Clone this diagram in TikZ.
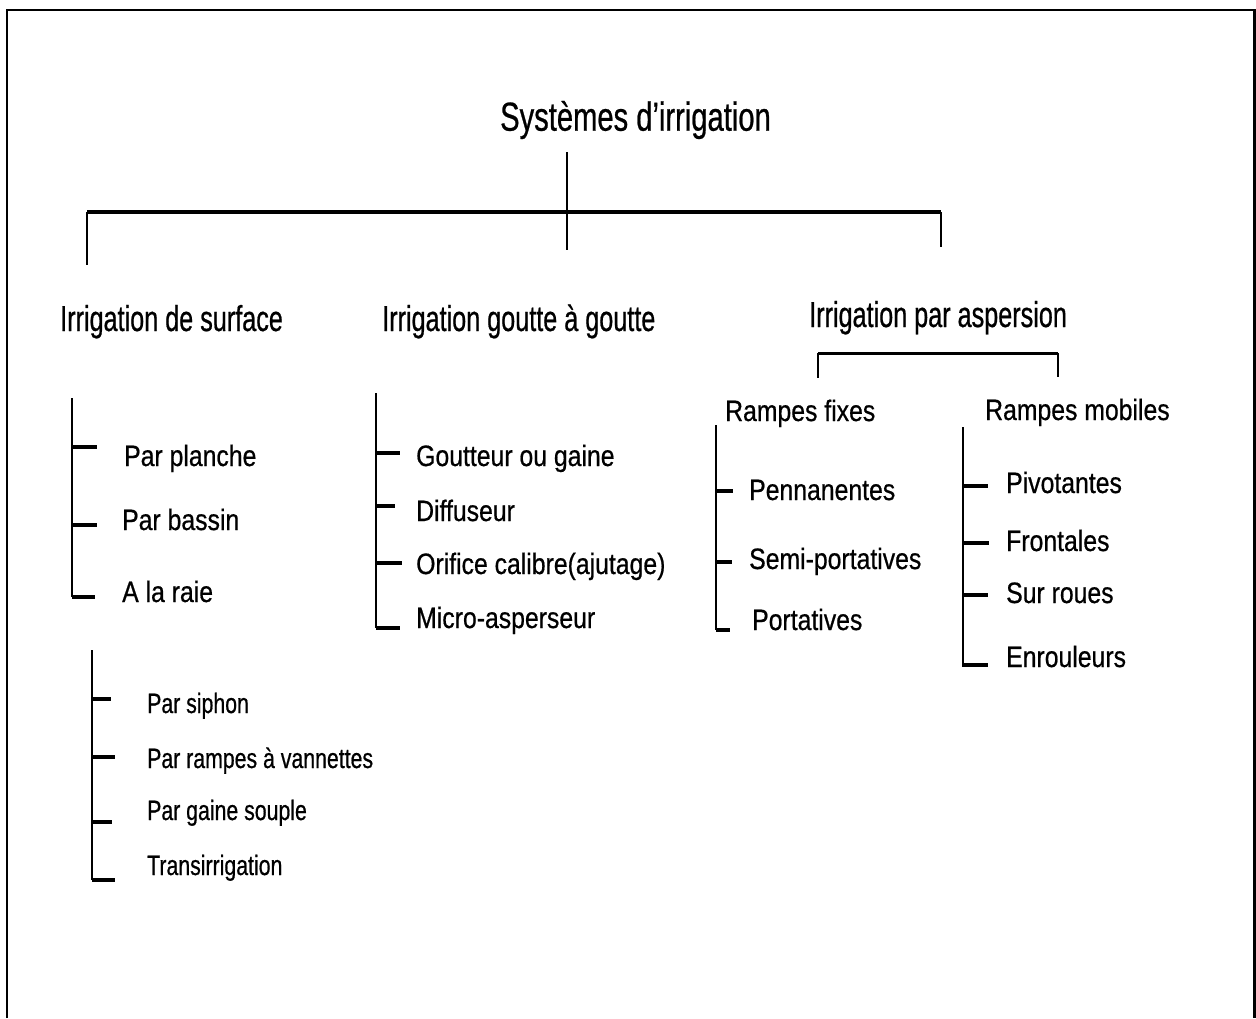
\documentclass[tikz,border=0pt]{standalone}
\usepackage{fontspec}
\usepackage{tikz}
\usetikzlibrary{positioning, calc}
\setmainfont{Liberation Sans}
\newfontfamily\titlefont{Liberation Sans}[FakeStretch=0.72, FakeBold=0.6]
\newfontfamily\headfont{Liberation Sans}[FakeStretch=0.70, FakeBold=0.6]
\newfontfamily\itemfont{Liberation Sans}[FakeStretch=0.84, FakeBold=0.6]
\newfontfamily\subitemfont{Liberation Sans}[FakeStretch=0.76, FakeBold=0.6]

\tikzset{
    titletext/.style={inner sep=0pt, anchor=base, font=\titlefont\fontsize{40.5}{44}\selectfont},
    headtext/.style={inner sep=0pt, anchor=base west, font=\headfont\fontsize{36}{40}\selectfont},
    itemtext/.style={inner sep=0pt, anchor=base west, font=\itemfont\fontsize{29.5}{32}\selectfont},
    subitemtext/.style={inner sep=0pt, anchor=base west, font=\subitemfont\fontsize{28}{31}\selectfont},
    frameline/.style={line width=2.5pt},
    mainbar/.style={line width=4.5pt},
    thinline/.style={line width=2pt},
    spine/.style={line width=2.5pt},
    tick/.style={line width=3.5pt}
}

\begin{document}
\begin{tikzpicture}[x=1pt, y=-1pt]
        \useasboundingbox (0,0) rectangle (1256,1018);
        \draw[frameline] (7,1018) -- (7,10) -- (1254.5,10) -- (1254.5,1018);

        % title and main bracket
        \node[titletext] (sys) at (635.5,130.7) {Systèmes d’irrigation};
        \coordinate (stem) at (567,152);
        \coordinate (barmid) at (567,212);
        \coordinate (barleft) at (87,212);
        \coordinate (barright) at (941,212);
        \draw[thinline] (stem) -- (567,250);
        \draw[mainbar] (barleft) -- (barright);
        \draw[thinline] (barleft) -- (87,265);
        \draw[thinline] (barright) -- (941,247);

        % three families
        \node[headtext] (surface) at (60,331) {Irrigation de surface};
        \node[headtext] (goutte) at (382,331) {Irrigation goutte à goutte};
        \node[headtext] (aspersion) at (809,327) {Irrigation par aspersion};

        % surface
        \draw[spine] (72,398) -- (72,597);
        \draw[tick] (72,447) -- (97,447);
        \draw[tick] (72,525) -- (97,525);
        \draw[tick] (72,597) -- (95,597);
        \node[itemtext] (planche) at (124,466) {Par planche};
        \node[itemtext] (bassin) at (122,530) {Par bassin};
        \node[itemtext] (raie) at (122,602) {A la raie};

        \draw[spine] (92,650) -- (92,880);
        \draw[tick] (92,699) -- (111,699);
        \draw[tick] (92,757) -- (115,757);
        \draw[tick] (92,822) -- (112,822);
        \draw[tick] (92,880) -- (115,880);
        \node[subitemtext] (siphon) at (147,713) {Par siphon};
        \node[subitemtext] (vannettes) at (147,768) {Par rampes à vannettes};
        \node[subitemtext] (souple) at (147,820) {Par gaine souple};
        \node[subitemtext] (transirr) at (147,875) {Transirrigation};

        % goutte a goutte
        \draw[spine] (376,393) -- (376,628);
        \draw[tick] (376,453) -- (400,453);
        \draw[tick] (376,506) -- (395,506);
        \draw[tick] (376,563) -- (402,563);
        \draw[tick] (376,628) -- (400,628);
        \node[itemtext] (goutteur) at (416,466) {Goutteur ou gaine};
        \node[itemtext] (diffuseur) at (416,521) {Diffuseur};
        \node[itemtext] (orifice) at (416,574) {Orifice calibre(ajutage)};
        \node[itemtext] (micro) at (416,628) {Micro-asperseur};

        % aspersion
        \coordinate (aspleft) at (818,353);
        \coordinate (aspright) at (1058,353);
        \draw[line width=3pt] (aspleft) -- (aspright);
        \draw[thinline] (aspleft) -- (818,378);
        \draw[thinline] (aspright) -- (1058,377);
        \node[itemtext] (fixes) at (725,421) {Rampes fixes};
        \node[itemtext] (mobiles) at (985,420) {Rampes mobiles};

        \draw[spine] (716,425) -- (716,630);
        \draw[tick] (716,491) -- (733,491);
        \draw[tick] (716,562) -- (732,562);
        \draw[tick] (716,630) -- (730,630);
        \node[itemtext] (permanentes) at (749,500) {Pennanentes};
        \node[itemtext] (semiport) at (749,569) {Semi-portatives};
        \node[itemtext] (portatives) at (752,630) {Portatives};

        \draw[spine] (963,427) -- (963,667);
        \draw[tick] (963,486) -- (988,486);
        \draw[tick] (963,543) -- (989,543);
        \draw[tick] (963,595) -- (988,595);
        \draw[tick] (963,665) -- (988,665);
        \node[itemtext] (pivot) at (1006,493) {Pivotantes};
        \node[itemtext] (frontales) at (1006,551) {Frontales};
        \node[itemtext] (roues) at (1006,603) {Sur roues};
        \node[itemtext] (enrouleurs) at (1006,667) {Enrouleurs};
    \end{tikzpicture}
\end{document}
